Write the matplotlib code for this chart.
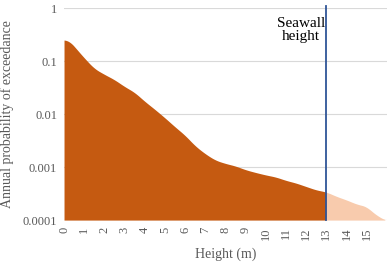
import matplotlib
matplotlib.use('Agg')
from matplotlib import pyplot as plt
import numpy as np

plt.rcParams['font.family'] = ['Liberation Serif', 'DejaVu Serif']

# data
height = [0, 0.25, 0.5, 1, 1.5, 2, 2.5, 3, 3.5, 4, 4.5, 5, 5.5, 6, 6.5, 7,
          7.5, 8, 8.5, 9, 9.5, 10, 10.5, 11, 11.5, 12, 12.5, 13, 13.5, 14,
          14.5, 15, 15.3, 15.6, 15.9]
prob = [0.251, 0.245, 0.191, 0.115, 0.0724, 0.0562, 0.0447, 0.0331, 0.0257,
        0.0174, 0.0123, 0.00851, 0.00575, 0.00398, 0.00251, 0.00178, 0.00135,
        0.00117, 0.00105, 0.00089, 0.00079, 0.00071, 0.00065, 0.00056,
        0.00050, 0.00043, 0.00037, 0.00034, 0.00028, 0.00024, 0.00020,
        0.00018, 0.00014, 0.000117, 0.0001]
seawall = 13
x_ticks = list(range(0, 16))
y_ticks = [0.0001, 0.001, 0.01, 0.1, 1]
y_labels = ['0.0001', '0.001', '0.01', '0.1', '1']

dark = '#C55A11'
light = '#F8CBAD'
grey = '#595959'

fig = plt.figure(figsize=(3.88, 2.62), dpi=100)
ax = fig.add_axes([0.165, 0.16, 0.832, 0.809])

h = np.array(height)
lp = np.log10(np.array(prob))
# dense curve in log space, lightly smoothed so it looks continuous
hh = np.linspace(h[0], h[-1], 800)
ll = np.interp(hh, h, lp)
w = 25
ll = np.convolve(np.pad(ll, w // 2, mode='edge'), np.ones(w) / w, mode='valid')
pp = 10 ** ll

below = hh <= seawall
ax.fill_between(hh[below], 1e-4, pp[below], color=dark, linewidth=0)
p_cut = 10 ** np.interp(seawall, hh, ll)
ax.fill_between(np.r_[seawall, hh[~below]], 1e-4, np.r_[p_cut, pp[~below]],
                color=light, linewidth=0)

ax.axvline(seawall, ymin=0, ymax=1.01, color='#2F5597', lw=1.3, clip_on=False)
ax.text(seawall - 1.25, 0.68, 'Seawall\nheight', ha='center', va='top',
        fontsize=11, color='black', linespacing=1.0)

ax.set_yscale('log')
ax.set_ylim(1e-4, 1)
ax.set_xlim(0, 16)
ax.set_yticks(y_ticks)
ax.set_yticklabels(y_labels)
ax.minorticks_off()
ax.set_xticks(x_ticks)
ax.set_xticklabels([str(t) for t in x_ticks], rotation=90)
ax.tick_params(axis='both', length=0, labelsize=9, colors=grey, pad=5)
ax.grid(axis='y', color='#D9D9D9', lw=0.8)
ax.set_axisbelow(True)
for s in ax.spines.values():
    s.set_visible(False)

ax.set_xlabel('Height (m)', fontsize=10, color=grey, labelpad=6)
ax.set_ylabel('Annual probability of exceedance', fontsize=10, color=grey, labelpad=6)

plt.savefig('out.png', dpi=100)
